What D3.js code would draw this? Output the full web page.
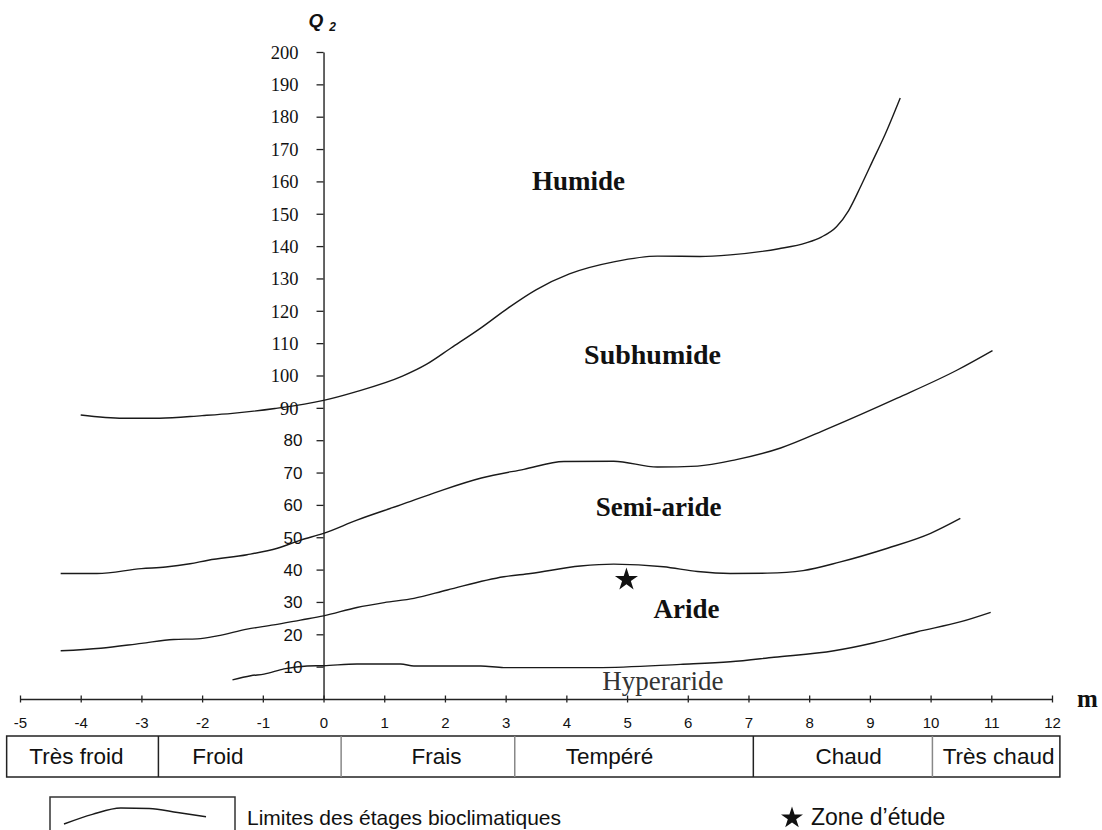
<!DOCTYPE html>
<html>
<head>
<meta charset="utf-8">
<script src="https://cdn.jsdelivr.net/npm/d3@7/dist/d3.min.js"></script>
<style>
  body { margin: 0; background: #fff; }
  svg { display: block; }
</style>
</head>
<body>
<div id="chart"></div>
<script>
// limits between bioclimatic stages, points are [m, Q2]
const humideLimit = [
  [-4, 87.8], [-3.3, 86.8], [-2.7, 86.8], [-2, 87.6], [-1.5, 88.3], [-0.8, 89.8],
  [0, 92.3], [0.5, 94.8], [1.3, 99.8], [1.7, 103.5], [2.1, 108.5], [2.6, 114.8],
  [3.05, 121], [3.5, 126.5], [4.05, 131.4], [4.8, 135.2], [5.5, 136.9], [6.2, 136.8],
  [6.7, 137.3], [7.5, 139.2], [7.95, 141], [8.2, 142.8], [8.45, 146], [8.65, 151],
  [8.85, 158.5], [9.05, 166.5], [9.25, 174.5], [9.5, 185.8]
];
const subhumideLimit = [
  [-4.33, 38.8], [-3.73, 38.8], [-3.0, 40.3], [-2.6, 40.8], [-2.2, 41.8], [-1.9, 42.9],
  [-1.26, 44.6], [-0.76, 46.6], [-0.38, 49.1], [0, 51.2], [0.55, 55.3], [1.27, 60],
  [1.9, 64.2], [2.6, 68.3], [3.3, 71], [3.96, 73.4], [4.78, 73.5], [5.5, 71.7],
  [6.16, 72], [6.8, 74], [7.53, 77.6], [8.3, 83.5], [9.45, 93], [10.44, 101.7], [11.02, 107.7]
];
const semiarideLimit = [
  [-4.33, 14.9], [-3.67, 15.7], [-3.0, 17.2], [-2.47, 18.4], [-2.08, 18.6], [-1.75, 19.5],
  [-1.26, 21.6], [-0.82, 22.9], [-0.38, 24.4], [0, 25.7], [0.55, 28.3], [1.0, 29.8],
  [1.49, 31.1], [2.04, 33.7], [2.97, 37.8], [3.41, 38.8], [4.23, 41.1], [4.78, 41.7],
  [5.6, 40.9], [6.16, 39.4], [6.7, 38.8], [7.31, 38.9], [7.9, 39.7], [8.5, 42.3],
  [9.29, 46.6], [10.0, 51.2], [10.49, 55.8]
];
const arideLimit = [
  [-1.5, 5.9], [-1.2, 7.2], [-0.98, 7.7], [-0.65, 9.3], [-0.27, 10.2], [0, 10.3],
  [0.55, 10.8], [1.27, 10.8], [1.49, 10.2], [2.59, 10.2], [2.97, 9.7], [4.5, 9.7],
  [5.88, 10.7], [6.7, 11.5], [7.42, 12.9], [8.41, 14.9], [9.07, 17.4], [9.78, 20.8],
  [10.5, 23.9], [10.99, 26.8]
];
const stageLimits = [humideLimit, subhumideLimit, semiarideLimit, arideLimit];

// study zone
const studyZone = [[4.99, 36.9]];

// stage names and where they sit, in [m, Q2]
const stageNames = ["Humide", "Subhumide", "Semi-aride", "Aride", "Hyperaride"];
const stageAnchors = [[4.2, 160.4], [5.42, 106.5], [5.52, 59.6], [5.98, 28], [5.59, 5.8]];

// winter classes along m
const winterClasses = ["Très froid", "Froid", "Frais", "Tempéré", "Chaud", "Très chaud"];
const classBounds = [-5.22, -2.72, 0.29, 3.15, 7.08, 10.03, 12.13];
const classLabelAt = [-4.07, -1.74, 1.86, 4.71, 8.65, 11.12];

// axes
const xTicks = [-5, -4, -3, -2, -1, 0, 1, 2, 3, 4, 5, 6, 7, 8, 9, 10, 11, 12];
const yTicks = [10, 20, 30, 40, 50, 60, 70, 80, 90, 100, 110, 120, 130, 140, 150, 160, 170, 180, 190, 200];

// legend sample curve (unit box)
const legendSample = [[0, 0], [0.2, 0.6], [0.4, 1], [0.6, 0.97], [0.8, 0.72], [1, 0.45]];

const width = 1102, height = 830;
const sans = "'Liberation Sans', Arial, sans-serif";
const serif = "'Liberation Serif', 'Times New Roman', serif";

const svg = d3.select("#chart")
  .append("svg")
  .attr("width", width)
  .attr("height", height);

let x = d3.scaleLinear().domain([-5, 12]).range([20, 1052]);
let y = d3.scaleLinear().domain([0, 200]).range([699, 52]);

// y axis on m = 0
let yAxis = d3.axisLeft(y).tickValues(yTicks).tickSize(7).tickSizeOuter(0);
let yAxisGroup = svg.append("g")
  .attr("transform", `translate(${x(0)},0)`)
  .call(yAxis);
yAxisGroup.select(".domain").attr("stroke", "#222").attr("stroke-width", 1.4);
yAxisGroup.selectAll(".tick line").attr("stroke", "#222").attr("stroke-width", 1.3);
yAxisGroup.selectAll(".tick text")
  .attr("fill", "#111")
  .attr("dy", "0.34em")
  .style("font-family", (d) => (d >= 90 ? serif : sans))
  .style("font-size", (d) => (d >= 90 ? "18.5px" : "17px"))
  .attr("x", (d) => (d >= 90 ? -25 : -21));

// x axis, ticks cross the line
let xAxis = d3.axisBottom(x).tickValues(xTicks).tickFormat((d) => String(d))
  .tickSize(4).tickSizeOuter(0);
let xAxisGroup = svg.append("g")
  .attr("transform", `translate(0,${y(0)})`)
  .call(xAxis);
xAxisGroup.select(".domain").attr("stroke", "#222").attr("stroke-width", 1.4);
xAxisGroup.selectAll(".tick line")
  .attr("stroke", "#222")
  .attr("stroke-width", 1.3)
  .attr("y1", -3.5)
  .attr("y2", 3.5);
xAxisGroup.selectAll(".tick text")
  .attr("fill", "#111")
  .attr("y", 29)
  .attr("dy", null)
  .style("font-family", sans)
  .style("font-size", "15px");

// axis titles
svg.append("text")
  .attr("x", x(12) + 25)
  .attr("y", y(0) + 8)
  .style("font-family", serif)
  .style("font-weight", "bold")
  .style("font-size", "25px")
  .attr("fill", "#111")
  .text("m");

let qLabel = svg.append("text")
  .attr("x", x(0) - 15)
  .attr("y", 27)
  .style("font-family", sans)
  .style("font-weight", "bold")
  .style("font-style", "italic")
  .style("font-size", "19px")
  .attr("fill", "#111");
qLabel.append("tspan").text("Q");
qLabel.append("tspan")
  .attr("dx", 6)
  .attr("dy", 4)
  .style("font-size", "12px")
  .text("2");

// stage limits
let line = d3.line()
  .x((d) => x(d[0]))
  .y((d) => y(d[1]))
  .curve(d3.curveMonotoneX);

svg.selectAll("limits")
  .data(stageLimits)
  .join("path")
  .attr("class", "limit")
  .attr("d", line)
  .attr("fill", "none")
  .attr("stroke", "#1a1a1a")
  .attr("stroke-width", 1.4);

// stage names
svg.selectAll("stageNames")
  .data(stageNames)
  .join("text")
  .attr("x", (d, i) => x(stageAnchors[i][0]))
  .attr("y", (d, i) => y(stageAnchors[i][1]))
  .attr("dy", "0.35em")
  .attr("text-anchor", "middle")
  .style("font-family", serif)
  .style("font-weight", (d) => (d === "Hyperaride" ? "normal" : "bold"))
  .style("font-size", (d) => (d === "Subhumide" ? "28px" : "27px"))
  .attr("fill", (d) => (d === "Hyperaride" ? "#333" : "#111"))
  .text((d) => d);

// study zone star
svg.selectAll("zone")
  .data(studyZone)
  .join("path")
  .attr("d", d3.symbol(d3.symbolStar).size(165))
  .attr("transform", (d) => `translate(${x(d[0])},${y(d[1])})`)
  .attr("fill", "#111");

// winter class table
let tableTop = 736, tableBottom = 777;
svg.append("rect")
  .attr("x", x(classBounds[0]))
  .attr("y", tableTop)
  .attr("width", x(classBounds[classBounds.length - 1]) - x(classBounds[0]))
  .attr("height", tableBottom - tableTop)
  .attr("fill", "none")
  .attr("stroke", "#222")
  .attr("stroke-width", 1.5);

svg.selectAll("dividers")
  .data(classBounds.slice(1, -1))
  .join("line")
  .attr("x1", (d) => x(d))
  .attr("x2", (d) => x(d))
  .attr("y1", tableTop)
  .attr("y2", tableBottom)
  .attr("stroke", (d, i) => (i === 0 || i === 3 ? "#222" : "#888"))
  .attr("stroke-width", 1.5);

svg.selectAll("classNames")
  .data(winterClasses)
  .join("text")
  .attr("x", (d, i) => x(classLabelAt[i]))
  .attr("y", (tableTop + tableBottom) / 2)
  .attr("dy", "0.35em")
  .attr("text-anchor", "middle")
  .style("font-family", sans)
  .style("font-size", "22.5px")
  .attr("fill", "#111")
  .text((d) => d);

// legend
let lx = d3.scaleLinear().domain([0, 1]).range([64, 206]);
let ly = d3.scaleLinear().domain([0, 1]).range([824, 808]);

svg.append("rect")
  .attr("x", 50)
  .attr("y", 797)
  .attr("width", 185)
  .attr("height", 60)
  .attr("fill", "none")
  .attr("stroke", "#333")
  .attr("stroke-width", 1.5);

svg.append("path")
  .datum(legendSample)
  .attr("d", d3.line().x((d) => lx(d[0])).y((d) => ly(d[1])).curve(d3.curveMonotoneX))
  .attr("fill", "none")
  .attr("stroke", "#1a1a1a")
  .attr("stroke-width", 1.4);

svg.append("text")
  .attr("x", 247)
  .attr("y", 825)
  .style("font-family", sans)
  .style("font-size", "21px")
  .attr("fill", "#111")
  .text("Limites des étages bioclimatiques");

svg.append("path")
  .attr("d", d3.symbol(d3.symbolStar).size(150))
  .attr("transform", "translate(792,818)")
  .attr("fill", "#111");

svg.append("text")
  .attr("x", 811)
  .attr("y", 825)
  .style("font-family", sans)
  .style("font-size", "23px")
  .attr("fill", "#111")
  .text("Zone d’étude");
</script>
</body>
</html>
